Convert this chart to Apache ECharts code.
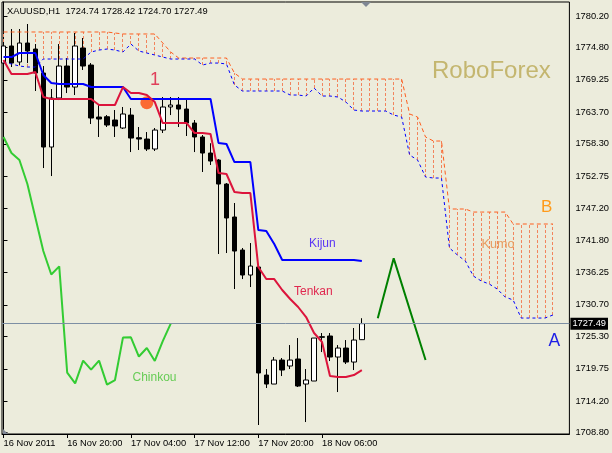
<!DOCTYPE html>
<html>
<head>
<meta charset="utf-8">
<script src="https://cdn.jsdelivr.net/npm/echarts@6/dist/echarts.min.js"></script>
<style>
html,body{margin:0;padding:0;background:#ECECDC;}
#c{width:612px;height:453px;}
</style>
</head>
<body>
<div id="c"></div>
<script>
// ---- data (XAUUSD H1) ----
const symbolName = 'XAUUSD,H1';
const timeLabels = ['16 Nov 2011', '16 Nov 20:00', '17 Nov 04:00', '17 Nov 12:00', '17 Nov 20:00', '18 Nov 06:00'];
const timeLabelIndex = [0, 8, 16, 24, 32, 40];
const priceTicks = [1780.20, 1774.80, 1769.25, 1763.70, 1758.30, 1752.75, 1747.20, 1741.80, 1736.25, 1730.70, 1725.30, 1719.75, 1714.20, 1708.80];

const opens = [1772.14, 1775.06, 1772.32, 1775.57, 1774.54, 1770.43, 1757.75, 1766.15, 1771.63, 1768.03,
  1774.72, 1771.80, 1762.89, 1762.94, 1762.38, 1761.01, 1763.23, 1759.35, 1759.12, 1757.41,
  1760.66, 1764.61, 1764.95, 1764.26, 1761.86, 1759.47, 1756.72, 1755.52, 1751.41, 1745.76,
  1740.10, 1735.82, 1737.19, 1718.68, 1717.14, 1721.25, 1720.23, 1721.43, 1717.14, 1717.66,
  1725.25, 1725.37, 1721.77, 1723.31, 1720.91, 1724.74];
const closes = [1775.06, 1772.14, 1775.57, 1774.20, 1770.43, 1757.75, 1766.15, 1771.63, 1768.03, 1775.06,
  1771.63, 1762.72, 1762.55, 1761.52, 1761.35, 1763.41, 1759.29, 1759.12, 1757.41, 1760.66,
  1764.61, 1764.95, 1764.26, 1761.86, 1759.47, 1756.72, 1755.35, 1751.41, 1745.59, 1739.93,
  1735.82, 1737.36, 1719.03, 1717.14, 1721.25, 1719.54, 1721.25, 1716.80, 1717.83, 1725.02,
  1725.15, 1721.77, 1723.31, 1720.91, 1724.68, 1727.49];
const lows = [1771.46, 1771.46, 1771.80, 1772.14, 1767.35, 1754.15, 1752.78, 1765.80, 1767.00, 1766.66,
  1770.95, 1761.69, 1759.47, 1761.18, 1759.47, 1760.84, 1756.89, 1757.24, 1757.07, 1757.07,
  1760.15, 1763.23, 1761.18, 1759.64, 1756.89, 1753.47, 1754.67, 1739.42, 1739.59, 1733.42,
  1735.13, 1733.76, 1710.12, 1716.46, 1717.14, 1718.51, 1719.71, 1716.63, 1710.63, 1717.66,
  1722.62, 1721.08, 1715.77, 1720.57, 1719.54, 1724.70];
const highs = [1775.74, 1777.97, 1777.97, 1778.83, 1775.40, 1771.63, 1767.69, 1775.40, 1773.00, 1777.29,
  1776.43, 1772.14, 1764.95, 1763.23, 1764.09, 1764.61, 1764.43, 1761.18, 1760.32, 1761.01,
  1766.32, 1766.32, 1766.32, 1766.15, 1762.38, 1759.81, 1758.40, 1755.70, 1751.58, 1748.16,
  1740.45, 1741.30, 1737.36, 1719.71, 1721.77, 1721.60, 1723.82, 1725.02, 1719.71, 1725.02,
  1725.88, 1725.88, 1723.82, 1724.68, 1726.74, 1728.42];

const tenkan = [1772.66, 1770.26, 1770.26, 1770.26, 1770.60, 1766.32, 1765.98, 1765.98, 1765.98, 1765.98,
  1765.98, 1765.98, 1764.95, 1764.95, 1764.95, 1768.03, 1767.00, 1767.00, 1766.66, 1765.46,
  1761.86, 1761.86, 1761.86, 1761.86, 1760.15, 1760.15, 1759.98, 1753.30, 1753.13, 1750.04,
  1749.87, 1749.87, 1737.19, 1735.13, 1735.13, 1733.25, 1731.71, 1730.34, 1728.62, 1725.88,
  1724.34, 1718.51, 1718.34, 1718.34, 1718.68, 1719.54];
const kijun = [1773.17, 1773.17, 1773.86, 1773.86, 1773.86, 1770.09, 1768.72, 1768.55, 1768.55, 1768.55,
  1768.55, 1768.03, 1768.03, 1768.03, 1768.03, 1768.03, 1765.98, 1765.98, 1765.98, 1765.98,
  1765.98, 1765.98, 1765.98, 1765.98, 1765.98, 1765.98, 1765.98, 1758.45, 1758.27, 1755.18,
  1755.18, 1755.18, 1743.53, 1743.36, 1741.13, 1738.39, 1738.39, 1738.39, 1738.39, 1738.39,
  1738.39, 1738.39, 1738.39, 1738.39, 1738.39, 1738.22];
const chinkou = [1759.47, 1756.72, 1755.52, 1751.41, 1745.68, 1739.93, 1735.90, 1737.30, 1719.10, 1717.25,
  1721.15, 1719.60, 1721.15, 1717.05, 1717.83, 1725.10, 1725.15, 1721.85, 1723.31, 1721.10,
  1724.50, 1727.49];
const senkouA = [1772.32, 1771.98, 1771.63, 1771.46, 1771.46, 1772.83, 1772.83, 1772.83, 1772.83, 1772.83,
  1772.83, 1774.03, 1774.37, 1774.54, 1774.37, 1774.03, 1775.40, 1774.20, 1773.86, 1773.52,
  1773.17, 1772.83, 1772.83, 1772.83, 1772.83, 1771.80, 1772.14, 1772.14, 1771.98, 1768.38,
  1767.35, 1767.35, 1767.35, 1767.35, 1767.35, 1767.35, 1766.66, 1766.66, 1766.49, 1767.86,
  1766.49, 1766.49, 1766.32, 1765.46, 1764.09, 1763.92, 1763.92, 1763.92, 1763.92, 1763.23,
  1762.89, 1756.38, 1755.52, 1752.61, 1752.44, 1752.44, 1740.45, 1739.25, 1738.22, 1735.65,
  1734.79, 1734.28, 1733.42, 1732.05, 1731.54, 1728.45, 1728.45, 1728.45, 1728.45, 1728.97];
const senkouB = [1777.46, 1777.46, 1777.46, 1777.46, 1777.46, 1777.46, 1777.46, 1777.46, 1777.46, 1777.46,
  1777.46, 1777.46, 1777.46, 1777.46, 1777.29, 1777.12, 1777.12, 1777.12, 1777.12, 1777.12,
  1775.57, 1774.03, 1773.00, 1773.00, 1773.00, 1773.00, 1773.00, 1773.00, 1773.00, 1770.43,
  1769.40, 1769.40, 1769.40, 1769.40, 1769.40, 1769.40, 1769.40, 1769.40, 1769.40, 1769.40,
  1769.40, 1769.40, 1769.40, 1769.40, 1769.40, 1769.40, 1769.40, 1769.40, 1769.40, 1769.40,
  1769.40, 1763.41, 1762.89, 1759.47, 1758.78, 1758.78, 1747.13, 1747.13, 1747.13, 1746.61,
  1746.61, 1746.61, 1746.61, 1746.61, 1744.56, 1744.56, 1744.56, 1744.56, 1744.56, 1744.56];

const waveIndex = [47, 49, 53];
const wavePrice = [1728.40, 1738.68, 1721.26];
const signalIndex = [18];
const signalPrice = [1765.35];

// ---- chart ----
const FONT = '"Liberation Sans", Arial, sans-serif';
const last = closes.length - 1;
const pair = (arr) => arr.map((v, i) => [i, v]);
const candleData = opens.map((o, i) => [i, o, closes[i], lows[i], highs[i]]);
const cloudData = senkouA.map((a, i) => [i, a, senkouB[i]]);
const titleText = symbolName + '  ' + [opens[last], highs[last], lows[last], closes[last]].map(v => v.toFixed(2)).join(' ');

const chart = echarts.init(document.getElementById('c'), null, { renderer: 'canvas' });

function txt(text, x, y, size, color) {
  return { type: 'text', x: x, y: y, silent: true, z: 50,
    style: { text: text, fill: color, font: size + 'px ' + FONT, textAlign: 'left', textVerticalAlign: 'middle', verticalAlign: 'middle' } };
}

const option = {
  backgroundColor: '#ECECDC',
  animation: false,
  grid: { left: 2, top: 2, width: 570, height: 432, show: true, borderColor: '#000', borderWidth: 1, backgroundColor: 'transparent' },
  xAxis: {
    type: 'value', min: -0.1875, max: 71.0625,
    axisLine: { show: true, lineStyle: { color: '#000', width: 1 } },
    axisTick: { show: true, customValues: timeLabelIndex, length: 4, lineStyle: { color: '#000' } },
    axisLabel: { customValues: timeLabelIndex, formatter: v => timeLabels[timeLabelIndex.indexOf(v)], align: 'left',
      color: '#000', fontSize: 9.3, fontFamily: FONT, margin: 5 },
    splitLine: { show: false }
  },
  yAxis: {
    type: 'value', position: 'right', min: 1708.58, max: 1782.60, scale: true,
    axisLine: { show: true, lineStyle: { color: '#000', width: 1 } },
    axisTick: { show: true, customValues: priceTicks, length: 4, lineStyle: { color: '#000' } },
    axisLabel: { customValues: priceTicks, formatter: v => v.toFixed(2), color: '#000', fontSize: 9.3, fontFamily: FONT, margin: 6 },
    splitLine: { show: false }
  },
  graphic: [
    txt(titleText, 7, 11, 9.3, '#000'),
    txt('RoboForex', 432, 71, 24, '#C4B66F'),
    txt('1', 150, 80, 18, '#E0405A'),
    txt('Kijun', 309, 244, 12, '#5A35F5'),
    txt('Tenkan', 294, 292, 12, '#E0284F'),
    txt('Chinkou', 132.5, 378, 12, '#66CC55'),
    txt('Kumo', 481.5, 245, 12.6, '#E89B5E'),
    txt('B', 541, 207, 17, '#FF9A1A'),
    txt('A', 548.5, 341, 17.5, '#1E1EE6'),
    { type: 'polygon', silent: true, z: 50, shape: { points: [[361, 2], [371, 2], [366, 7]] }, style: { fill: '#7F8794' } },
    { type: 'polygon', silent: true, z: 50, shape: { points: [[3, 429], [3, 434], [8, 434]] }, style: { fill: '#7F8794' } }
  ],
  series: [
    {
      type: 'candlestick', data: candleData, barWidth: 5, silent: true,
      itemStyle: { color: '#FFFFFF', color0: '#000000', borderColor: '#000', borderColor0: '#000', borderColorDoji: '#000', borderWidth: 1 },
      markLine: {
        silent: true, symbol: ['none', 'none'],
        data: [{ yAxis: closes[last] }],
        lineStyle: { color: '#7D8FA4', width: 1, type: 'solid' },
        label: { show: true, position: 'end', formatter: closes[last].toFixed(2), color: '#fff', backgroundColor: '#000',
          padding: [2, 2, 1, 2], fontSize: 9.3, fontFamily: FONT, distance: 1 }
      }
    },
    {
      type: 'custom', data: cloudData, silent: true, encode: { x: 0, y: [1, 2] },
      renderItem: (params, api) => {
        const p1 = api.coord([api.value(0), api.value(1)]);
        const p2 = api.coord([api.value(0), api.value(2)]);
        const x = Math.round(p1[0] - 0.5) + 0.5;
        return { type: 'line', shape: { x1: x, y1: p1[1], x2: x, y2: p2[1] },
          style: { stroke: '#F2845C', lineWidth: 1, lineDash: [3, 2] } };
      }
    },
    { type: 'line', data: pair(senkouB), symbol: 'none', silent: true, lineStyle: { color: '#FF5F1F', width: 1, type: [4, 3] } },
    { type: 'line', data: pair(senkouA), symbol: 'none', silent: true, lineStyle: { color: '#0000FF', width: 1, type: [3, 3] } },
    { type: 'line', data: pair(chinkou), symbol: 'none', silent: true, lineStyle: { color: '#33CC33', width: 2 } },
    { type: 'line', data: pair(kijun), symbol: 'none', silent: true, lineStyle: { color: '#0000FF', width: 2 } },
    { type: 'line', data: pair(tenkan), symbol: 'none', silent: true, lineStyle: { color: '#DC143C', width: 2 } },
    { type: 'line', data: waveIndex.map((x, i) => [x, wavePrice[i]]), symbol: 'none', silent: true, lineStyle: { color: '#008000', width: 2 } },
    { type: 'scatter', data: signalIndex.map((x, i) => [x, signalPrice[i]]), symbol: 'circle', symbolSize: 13, silent: true,
      itemStyle: { color: '#FF4A0A' } }
  ]
};
chart.setOption(option);
</script>
</body>
</html>
